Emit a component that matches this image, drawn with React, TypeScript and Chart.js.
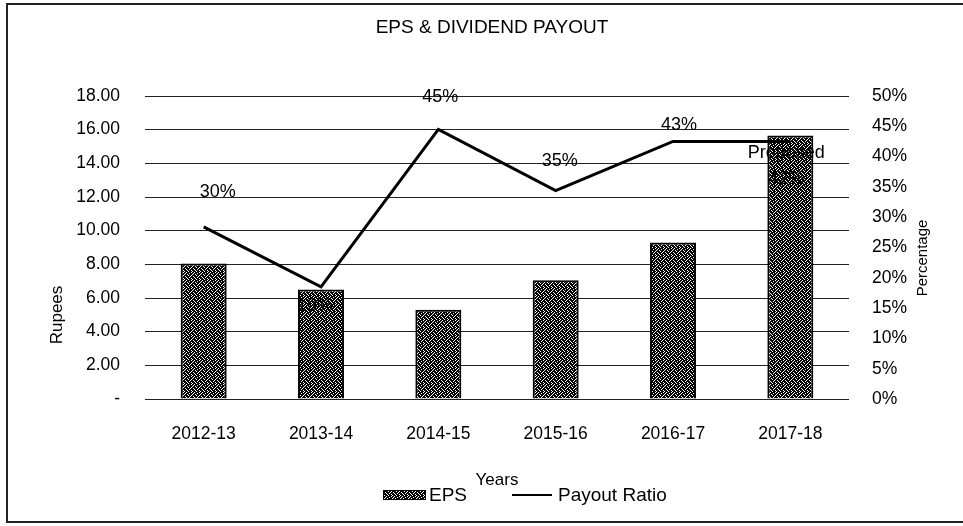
import React, { useEffect, useRef } from "react";
import { Chart, registerables } from "chart.js";

Chart.register(...registerables);

// ---- data ----
const categories = ["2012-13", "2013-14", "2014-15", "2015-16", "2016-17", "2017-18"];
const epsValues = [8.05, 6.5, 5.3, 7.05, 9.3, 15.65];
const payoutRatio = [28.4, 18.5, 44.5, 34.4, 42.5, 42.5];
const payoutLabels = ["30%", "19%", "45%", "35%", "43%", "Proposed\n42%"];
const seriesNames = ["EPS", "Payout Ratio"];
const chartTitle = "EPS & DIVIDEND PAYOUT";
const leftAxisTitle = "Rupees";
const rightAxisTitle = "Percentage";
const xAxisTitle = "Years";

// label placement (style, relative to the point drawn by the library)
const labelOffsets: [number, number][] = [
  [14, -35],
  [-6, 19],
  [2, -32],
  [4, -30],
  [6, -16],
  [-4, 12],
];

const FONT = '"Liberation Sans", Arial, sans-serif';

function makePattern(ctx: CanvasRenderingContext2D): CanvasPattern | string {
  const rows = [
    "11011110",
    "10111011",
    "01101111",
    "11110110",
    "10111101",
    "11011011",
    "11101110",
    "01110111",
  ];
  const c = document.createElement("canvas");
  c.width = 8;
  c.height = 8;
  const g = c.getContext("2d");
  if (!g) return "#444";
  g.fillStyle = "#ffffff";
  g.fillRect(0, 0, 8, 8);
  g.fillStyle = "#000000";
  rows.forEach((r, y) =>
    r.split("").forEach((ch, x) => {
      if (ch === "1") g.fillRect(x, y, 1, 1);
    })
  );
  return ctx.createPattern(c, "repeat") || "#444";
}

export default function App() {
  const ref = useRef<HTMLCanvasElement | null>(null);

  useEffect(() => {
    const canvas = ref.current;
    if (!canvas) return;
    const ctx0 = canvas.getContext("2d");
    if (!ctx0) return;
    const pattern = makePattern(ctx0);

    const decor = {
      id: "decor",
      afterDraw(chart: any) {
        const ctx: CanvasRenderingContext2D = chart.ctx;
        ctx.save();
        // frame
        ctx.strokeStyle = "#222";
        ctx.lineWidth = 2;
        ctx.beginPath();
        ctx.moveTo(966, 4);
        ctx.lineTo(7, 4);
        ctx.lineTo(7, 522);
        ctx.lineTo(966, 522);
        ctx.stroke();

        ctx.fillStyle = "#000";
        ctx.textAlign = "center";
        ctx.textBaseline = "middle";
        // title
        ctx.font = `19px ${FONT}`;
        ctx.fillText(chartTitle, 492, 28);

        // axis titles
        ctx.font = `17px ${FONT}`;
        ctx.save();
        ctx.translate(57, 315);
        ctx.rotate(-Math.PI / 2);
        ctx.fillText(leftAxisTitle, 0, 0);
        ctx.restore();

        ctx.font = `15px ${FONT}`;
        ctx.save();
        ctx.translate(923, 258);
        ctx.rotate(-Math.PI / 2);
        ctx.fillText(rightAxisTitle, 0, 0);
        ctx.restore();

        ctx.font = `17px ${FONT}`;
        ctx.fillText(xAxisTitle, 497, 480);

        // data labels on the payout line
        ctx.font = `18px ${FONT}`;
        const meta = chart.getDatasetMeta(1);
        meta.data.forEach((pt: any, i: number) => {
          const [dx, dy] = labelOffsets[i];
          const lines = payoutLabels[i].split("\n");
          lines.forEach((ln, j) => {
            ctx.fillText(ln, pt.x + dx, pt.y + dy + j * 26);
          });
        });

        // legend
        const ly = 495;
        ctx.fillStyle = pattern as any;
        ctx.fillRect(383, ly - 5, 43, 10);
        ctx.strokeStyle = "#000";
        ctx.lineWidth = 1;
        ctx.strokeRect(383.5, ly - 4.5, 42, 9);
        ctx.fillStyle = "#000";
        ctx.font = `19px ${FONT}`;
        ctx.textAlign = "left";
        ctx.fillText(seriesNames[0], 429, ly + 1);
        ctx.lineWidth = 2;
        ctx.beginPath();
        ctx.moveTo(512, ly);
        ctx.lineTo(552, ly);
        ctx.stroke();
        ctx.fillText(seriesNames[1], 558, ly + 1);
        ctx.restore();
      },
    };

    const chart = new Chart(canvas, {
      type: "bar",
      data: {
        labels: categories,
        datasets: [
          {
            type: "bar",
            label: seriesNames[0],
            data: epsValues,
            backgroundColor: pattern as any,
            borderColor: "#000",
            borderWidth: 2,
            barPercentage: 0.392,
            categoryPercentage: 1,
            yAxisID: "y",
            order: 1,
          },
          {
            type: "line",
            label: seriesNames[1],
            data: payoutRatio,
            borderColor: "#000",
            borderWidth: 3,
            pointRadius: 0,
            tension: 0,
            fill: false,
            yAxisID: "y1",
            order: 0,
          } as any,
        ],
      },
      options: {
        responsive: false,
        animation: false,
        devicePixelRatio: 1,
        layout: { padding: { top: 96, left: 0, right: 0, bottom: 0 } },
        plugins: {
          legend: { display: false },
          title: { display: false },
          tooltip: { enabled: false },
        },
        scales: {
          x: {
            grid: { display: false, drawTicks: false },
            border: { display: false },
            ticks: {
              color: "#000",
              padding: 25,
              font: { family: FONT, size: 17.5 },
              maxRotation: 0,
            },
            afterFit(scale: any) {
              scale.height = 127;
            },
          },
          y: {
            position: "left",
            min: 0,
            max: 18,
            grid: { color: "#222", lineWidth: 1, drawTicks: false },
            border: { display: false },
            ticks: {
              stepSize: 2,
              color: "#000",
              padding: 25,
              font: { family: FONT, size: 17.5 },
              callback: (v: any) => (Number(v) === 0 ? "-" : Number(v).toFixed(2)),
            },
            afterFit(scale: any) {
              scale.width = 145;
            },
          },
          y1: {
            position: "right",
            min: 0,
            max: 50,
            grid: { display: false, drawTicks: false },
            border: { display: false },
            ticks: {
              stepSize: 5,
              color: "#000",
              padding: 23,
              font: { family: FONT, size: 17.5 },
              callback: (v: any) => `${v}%`,
            },
            afterFit(scale: any) {
              scale.width = 114;
            },
          },
        },
      } as any,
      plugins: [decor],
    });

    return () => chart.destroy();
  }, []);

  return (
    <div
      style={{
        position: "fixed",
        left: 0,
        top: 0,
        width: 963,
        height: 526,
        background: "#fff",
      }}
    >
      <canvas ref={ref} width={963} height={526} style={{ display: "block" }} />
    </div>
  );
}
